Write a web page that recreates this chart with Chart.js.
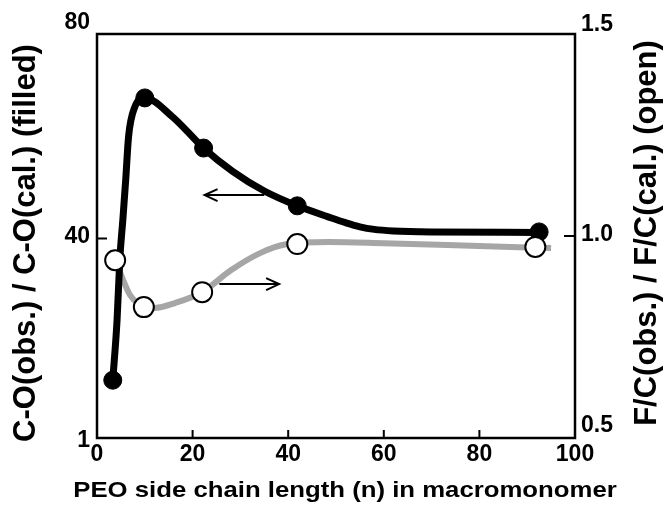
<!DOCTYPE html>
<html>
<head>
<meta charset="utf-8">
<script src="https://cdn.jsdelivr.net/npm/chart.js@4.4.0/dist/chart.umd.min.js"></script>
<style>
  html, body { margin: 0; padding: 0; background: #fff; }
  #wrap { width: 668px; height: 506px; }
</style>
</head>
<body>
<div id="wrap"><canvas id="chart" width="668" height="506"></canvas></div>
<script>
// measured points
const filledX = [3.3, 10, 22.3, 41.9, 92.5];
const filledY = [12.3, 67.5, 57.7, 46.4, 41.3];
const openX = [3.8, 9.8, 22, 41.9, 91.7];
const openY = [0.94, 0.824, 0.861, 0.98, 0.973];

// hand-drawn guide curves through the points
const filledCurveX = [3.3, 4.2, 4.8, 5.4, 6.0, 6.6, 7.9, 10, 15.8, 22.3, 28.3, 35, 41.9, 48.5, 52, 55, 58, 62, 70, 92.5];
const filledCurveY = [12.3, 24.1, 36.4, 43.6, 51.4, 59.9, 65.7, 67.5, 63.8, 57.7, 53.2, 49.3, 46.4, 44.2, 43.1, 42.3, 41.8, 41.5, 41.3, 41.2];
const openCurveX = [3.8, 5.2, 6.9, 9, 9.8, 12.1, 16.3, 22, 28, 34, 39.8, 48.5, 60, 75, 95];
const openCurveY = [0.94, 0.899, 0.854, 0.829, 0.824, 0.822, 0.834, 0.861, 0.915, 0.957, 0.98, 0.985, 0.982, 0.977, 0.97];

// axis ticks
const xTicks = [0, 20, 40, 60, 80, 100];
const leftTicks = [1, 40, 80];
const rightTicks = [0.5, 1.0, 1.5];

// arrows telling which axis each curve belongs to
const leftArrowX = [35, 22.5];
const leftArrowY = 48.5;
const rightArrowX = [25.6, 38.1];
const rightArrowY = 0.881;

const FAMILY = '"Liberation Sans", Arial, sans-serif';

function pts(xs, ys) {
  return xs.map((x, i) => ({ x: x, y: ys[i] }));
}

function drawArrow(ctx, x1, y1, x2, y2) {
  const dir = Math.sign(x2 - x1);
  ctx.beginPath();
  ctx.moveTo(x1, y1);
  ctx.lineTo(x2, y2);
  ctx.moveTo(x2 - dir * 13, y2 - 6);
  ctx.lineTo(x2, y2);
  ctx.lineTo(x2 - dir * 13, y2 + 6);
  ctx.stroke();
}

function verticalText(ctx, text, x, y) {
  ctx.save();
  ctx.translate(x, y);
  ctx.rotate(-Math.PI / 2);
  ctx.textAlign = 'center';
  ctx.textBaseline = 'middle';
  ctx.fillText(text, 0, 0);
  ctx.restore();
}

const framePlugin = {
  id: 'frame',
  afterDatasetsDraw(chart) {
    const ctx = chart.ctx;
    const a = chart.chartArea;
    const x = chart.scales.x, y = chart.scales.y, y2 = chart.scales.y2;
    ctx.save();
    ctx.strokeStyle = '#000';
    ctx.lineWidth = 2.5;
    ctx.strokeRect(a.left, a.top, a.right - a.left, a.bottom - a.top);

    // inward tick marks
    ctx.lineWidth = 2;
    ctx.beginPath();
    xTicks.forEach(v => {
      const px = x.getPixelForValue(v);
      ctx.moveTo(px, a.bottom);
      ctx.lineTo(px, a.bottom - 8);
    });
    leftTicks.forEach(v => {
      const py = y.getPixelForValue(v);
      ctx.moveTo(a.left, py);
      ctx.lineTo(a.left + 10, py);
    });
    rightTicks.forEach(v => {
      const py = y2.getPixelForValue(v);
      ctx.moveTo(a.right, py);
      ctx.lineTo(a.right - 11, py);
    });
    ctx.stroke();

    // y tick labels, end labels lifted clear of the frame corners
    ctx.fillStyle = '#000';
    ctx.font = 'bold 23px ' + FAMILY;
    ctx.textBaseline = 'middle';
    ctx.textAlign = 'right';
    leftTicks.forEach((v, i) => {
      const lift = i === leftTicks.length - 1 ? 11 : (i === 0 ? -3 : 2);
      ctx.fillText(String(v), a.left - 7, y.getPixelForValue(v) - lift);
    });
    ctx.textAlign = 'left';
    rightTicks.forEach((v, i) => {
      const lift = i === rightTicks.length - 1 ? 9 : (i === 0 ? 12 : 1);
      ctx.fillText(v.toFixed(1), a.right + 6, y2.getPixelForValue(v) - lift);
    });

    // axis titles
    ctx.font = 'bold 31px ' + FAMILY;
    verticalText(ctx, 'C-O(obs.) / C-O(cal.) (filled)', 26, 243);
    verticalText(ctx, 'F/C(obs.) / F/C(cal.) (open)', 647, 233);

    ctx.save();
    ctx.font = 'bold 22px ' + FAMILY;
    ctx.translate(345, 491);
    ctx.scale(1.17, 1);
    ctx.textAlign = 'center';
    ctx.textBaseline = 'middle';
    ctx.fillText('PEO side chain length (n) in macromonomer', 0, 0);
    ctx.restore();

    // arrows
    ctx.lineWidth = 2;
    const ly = y.getPixelForValue(leftArrowY);
    drawArrow(ctx, x.getPixelForValue(leftArrowX[0]), ly, x.getPixelForValue(leftArrowX[1]), ly);
    const ry = y2.getPixelForValue(rightArrowY);
    drawArrow(ctx, x.getPixelForValue(rightArrowX[0]), ry, x.getPixelForValue(rightArrowX[1]), ry);
    ctx.restore();
  }
};

new Chart(document.getElementById('chart').getContext('2d'), {
  type: 'scatter',
  data: {
    datasets: [
      {
        data: pts(openX, openY),
        yAxisID: 'y2',
        pointRadius: 10,
        pointBackgroundColor: '#fff',
        pointBorderColor: '#000',
        pointBorderWidth: 2,
        showLine: false,
        order: 0,
      },
      {
        data: pts(filledX, filledY),
        yAxisID: 'y',
        pointRadius: 9,
        pointBackgroundColor: '#000',
        pointBorderColor: '#000',
        pointBorderWidth: 1,
        showLine: false,
        order: 1,
      },
      {
        data: pts(filledCurveX, filledCurveY),
        yAxisID: 'y',
        showLine: true,
        pointRadius: 0,
        borderColor: '#000',
        borderWidth: 7,
        cubicInterpolationMode: 'monotone',
        order: 2,
      },
      {
        data: pts(openCurveX, openCurveY),
        yAxisID: 'y2',
        showLine: true,
        pointRadius: 0,
        borderColor: '#a6a6a6',
        borderWidth: 6,
        cubicInterpolationMode: 'monotone',
        order: 3,
      },
    ],
  },
  options: {
    responsive: false,
    animation: false,
    devicePixelRatio: 1,
    layout: { padding: { top: 34, left: 0, right: 0, bottom: 0 } },
    plugins: {
      legend: { display: false },
      tooltip: { enabled: false },
    },
    scales: {
      x: {
        type: 'linear',
        min: 0,
        max: 100,
        afterBuildTicks: s => { s.ticks = xTicks.map(v => ({ value: v })); },
        ticks: { font: { family: FAMILY, size: 23, weight: 'bold' }, color: '#000', padding: 3, maxRotation: 0 },
        grid: { display: false, drawTicks: false },
        border: { display: false },
        afterFit: s => { s.height = 68; },
      },
      y: {
        type: 'linear',
        position: 'left',
        min: 1,
        max: 80,
        ticks: { display: false },
        grid: { display: false, drawTicks: false },
        border: { display: false },
        afterFit: s => { s.width = 97; },
      },
      y2: {
        type: 'linear',
        position: 'right',
        min: 0.5,
        max: 1.5,
        ticks: { display: false },
        grid: { display: false, drawTicks: false },
        border: { display: false },
        afterFit: s => { s.width = 93; },
      },
    },
  },
  plugins: [framePlugin],
});
</script>
</body>
</html>
